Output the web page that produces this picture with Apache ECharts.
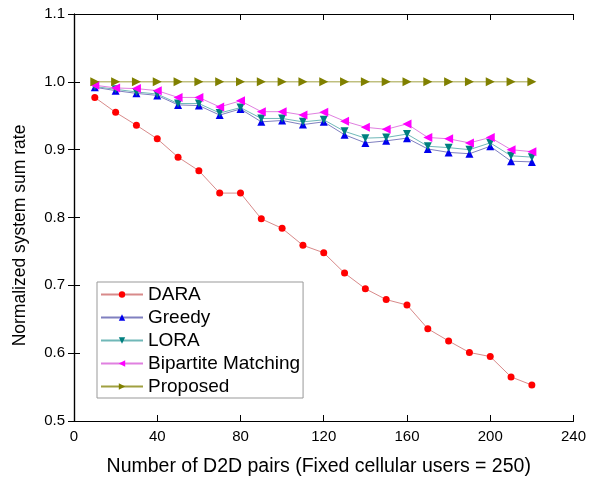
<!DOCTYPE html>
<html>
<head>
<meta charset="utf-8">
<script src="https://cdn.jsdelivr.net/npm/echarts@6/dist/echarts.min.js"></script>
<style>
  html, body { margin: 0; padding: 0; background: #fff; }
  #chart { width: 589px; height: 482px; }
</style>
</head>
<body>
<div id="chart"></div>
<script>
// D2D pairs on the x axis
const pairs = [10, 20, 30, 40, 50, 60, 70, 80, 90, 100, 110, 120, 130, 140, 150, 160, 170, 180, 190, 200, 210, 220]

const dara = [0.977, 0.955, 0.936, 0.916, 0.889, 0.869, 0.836, 0.836, 0.798, 0.784, 0.759, 0.748, 0.718, 0.695, 0.679, 0.671, 0.636, 0.618, 0.601, 0.595, 0.565, 0.553]
const greedy = [0.992, 0.987, 0.983, 0.980, 0.966, 0.965, 0.951, 0.960, 0.941, 0.943, 0.937, 0.941, 0.922, 0.910, 0.913, 0.917, 0.901, 0.896, 0.894, 0.905, 0.883, 0.882]
const lora = [0.993, 0.989, 0.985, 0.982, 0.968, 0.968, 0.954, 0.962, 0.946, 0.946, 0.941, 0.944, 0.927, 0.917, 0.918, 0.923, 0.905, 0.903, 0.900, 0.910, 0.891, 0.889]
const bipartite = [0.995, 0.991, 0.990, 0.987, 0.977, 0.977, 0.963, 0.972, 0.956, 0.956, 0.951, 0.955, 0.942, 0.933, 0.930, 0.938, 0.918, 0.916, 0.910, 0.918, 0.900, 0.897]
const proposed = [1, 1, 1, 1, 1, 1, 1, 1, 1, 1, 1, 1, 1, 1, 1, 1, 1, 1, 1, 1, 1, 1]

const xTicks = [0, 40, 80, 120, 160, 200, 240]
const yTicks = [0.5, 0.6, 0.7, 0.8, 0.9, 1.0, 1.1]

const font = 'Liberation Sans, Arial, sans-serif'

const chart = echarts.init(document.getElementById('chart'))

const pts = (ys) => pairs.map((x, i) => [x, ys[i]])

const mkSeries = (name, ys, symbol, size, markColor, lineColor, rotate) => ({
  name,
  type: 'line',
  data: pts(ys),
  symbol,
  symbolSize: size,
  symbolRotate: rotate || 0,
  showAllSymbol: true,
  itemStyle: { color: markColor },
  lineStyle: { color: lineColor, width: 1 },
  emphasis: { disabled: true },
  animation: false
})

const axisLine = { show: true, lineStyle: { color: '#000', width: 1.2 } }
const tick = { show: true, inside: true, length: 6, lineStyle: { color: '#000' } }

const option = {
  backgroundColor: '#fff',
  grid: { left: 74, right: 13, top: 14, bottom: 60 },
  legend: {
    left: 97,
    top: 282,
    orient: 'vertical',
    itemWidth: 42,
    itemHeight: 8,
    itemGap: 4,
    padding: [3, 3, 2, 3],
    borderColor: '#999',
    borderWidth: 1,
    backgroundColor: '#fff',
    textStyle: { fontFamily: font, fontSize: 19, color: '#000' },
    data: ['DARA', 'Greedy', 'LORA', 'Bipartite Matching', 'Proposed']
  },
  xAxis: [
    {
      type: 'value', min: 0, max: 240, interval: 40,
      axisLine, axisTick: tick, splitLine: { show: false },
      axisLabel: { fontFamily: font, fontSize: 15, color: '#000', margin: 8 },
      name: 'Number of D2D pairs (Fixed cellular users = 250)',
      nameLocation: 'middle', nameGap: 36,
      nameTextStyle: { fontFamily: font, fontSize: 19.5, color: '#000', padding: [0, 10, 0, 0] }
    },
    {
      type: 'value', min: 0, max: 240, interval: 40, position: 'top',
      axisLine, axisTick: tick, axisLabel: { show: false }, splitLine: { show: false }
    }
  ],
  yAxis: [
    {
      type: 'value', min: 0.5, max: 1.1, interval: 0.1,
      axisLine, axisTick: tick, splitLine: { show: false },
      axisLabel: {
        fontFamily: font, fontSize: 15, color: '#000', margin: 9,
        formatter: (v) => v.toFixed(1)
      },
      name: 'Normalized system sum rate',
      nameLocation: 'middle', nameGap: 45,
      nameTextStyle: { fontFamily: font, fontSize: 17.5, color: '#000', padding: [0, 36, 0, 0] }
    },
    {
      type: 'value', min: 0.5, max: 1.1, interval: 0.1, position: 'right',
      axisLine, axisTick: tick, axisLabel: { show: false }, splitLine: { show: false }
    }
  ],
  series: [
    mkSeries('DARA', dara, 'circle', 7, '#ff0000', '#d88a8a'),
    mkSeries('Greedy', greedy, 'triangle', 8, '#0000ee', '#8080c0'),
    mkSeries('LORA', lora, 'triangle', 8, '#007f7f', '#70b8b8', 180),
    mkSeries('Bipartite Matching', bipartite, 'triangle', 9, '#ff00ff', '#e080e0', 90),
    mkSeries('Proposed', proposed, 'triangle', 9, '#808000', '#a0a040', -90)
  ]
}

option && chart.setOption(option)
</script>
</body>
</html>
